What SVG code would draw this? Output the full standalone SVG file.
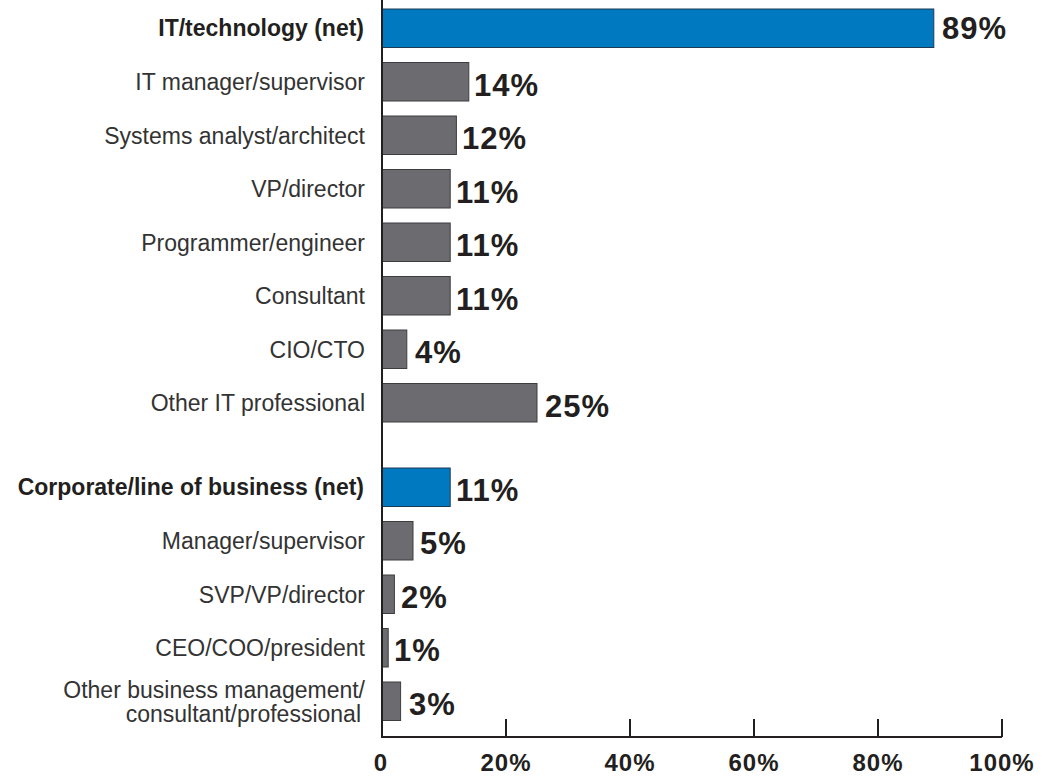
<svg xmlns="http://www.w3.org/2000/svg" width="1049" height="776" viewBox="0 0 1049 776">
<style>
.bar{fill:#6b6b70;stroke:#3d3d40;stroke-width:1}
.net{fill:#0079c1;stroke:#1d3a55;stroke-width:1}
.lab{font-family:"Liberation Sans",Arial,sans-serif;font-size:23px;fill:#333;text-anchor:end}
.labb{font-family:"Liberation Sans",Arial,sans-serif;font-size:23px;font-weight:bold;fill:#231f20;text-anchor:end}
.val{font-family:"Liberation Sans",Arial,sans-serif;font-size:31px;font-weight:bold;fill:#231f20;letter-spacing:1px}
.tick{font-family:"Liberation Sans",Arial,sans-serif;font-size:24px;font-weight:bold;fill:#231f20;text-anchor:middle;letter-spacing:1px}
.ax{stroke:#231f20;stroke-width:2;fill:none}
</style>
<rect width="1049" height="776" fill="#fff"/>
<g id="row-it-net"><rect class="net" x="382" y="9" width="551.8" height="38.5"/><text class="labb" x="364" y="36">IT/technology (net)</text><text class="val" x="942" y="39">89%</text></g>
<g id="row-it-manager"><rect class="bar" x="382" y="62.5" width="86.8" height="38.5"/><text class="lab" x="365" y="90">IT manager/supervisor</text><text class="val" x="474" y="96">14%</text></g>
<g id="row-systems"><rect class="bar" x="382" y="116" width="74.4" height="38.5"/><text class="lab" x="365" y="143.5">Systems analyst/architect</text><text class="val" x="462" y="149">12%</text></g>
<g id="row-vp"><rect class="bar" x="382" y="169.5" width="68.2" height="38.5"/><text class="lab" x="365" y="197">VP/director</text><text class="val" x="456" y="203">11%</text></g>
<g id="row-programmer"><rect class="bar" x="382" y="223" width="68.2" height="38.5"/><text class="lab" x="365" y="250.5">Programmer/engineer</text><text class="val" x="456" y="256">11%</text></g>
<g id="row-consultant"><rect class="bar" x="382" y="276.5" width="68.2" height="38.5"/><text class="lab" x="365" y="304">Consultant</text><text class="val" x="456" y="309.5">11%</text></g>
<g id="row-cio"><rect class="bar" x="382" y="330" width="24.8" height="38.5"/><text class="lab" x="365" y="357.5">CIO/CTO</text><text class="val" x="415" y="363">4%</text></g>
<g id="row-other-it"><rect class="bar" x="382" y="383.5" width="155" height="38.5"/><text class="lab" x="365" y="411">Other IT professional</text><text class="val" x="545" y="416.5">25%</text></g>
<g id="row-corp-net"><rect class="net" x="382" y="468" width="68.2" height="38.5"/><text class="labb" x="364" y="495">Corporate/line of business (net)</text><text class="val" x="456" y="500.5">11%</text></g>
<g id="row-manager"><rect class="bar" x="382" y="521.5" width="31" height="38.5"/><text class="lab" x="365" y="549">Manager/supervisor</text><text class="val" x="420" y="554">5%</text></g>
<g id="row-svp"><rect class="bar" x="382" y="575" width="12.4" height="38.5"/><text class="lab" x="365" y="602.5">SVP/VP/director</text><text class="val" x="401" y="607.5">2%</text></g>
<g id="row-ceo"><rect class="bar" x="382" y="628.5" width="6.2" height="38.5"/><text class="lab" x="365" y="656">CEO/COO/president</text><text class="val" x="394" y="661">1%</text></g>
<g id="row-other-biz"><rect class="bar" x="382" y="682" width="18.6" height="38.5"/><text class="lab" x="365" y="698">Other business management/</text><text class="lab" x="361" y="722">consultant/professional</text><text class="val" x="409" y="714.5">3%</text></g>
<g id="axes">
<path class="ax" d="M382 0V737H1002M506 719V737M630 719V737M754 719V737M878 719V737M1002 719V737"/>
<text class="tick" x="381" y="771">0</text>
<text class="tick" x="506" y="771">20%</text>
<text class="tick" x="630" y="771">40%</text>
<text class="tick" x="754" y="771">60%</text>
<text class="tick" x="878" y="771">80%</text>
<text class="tick" x="1002" y="771">100%</text>
</g>
</svg>
